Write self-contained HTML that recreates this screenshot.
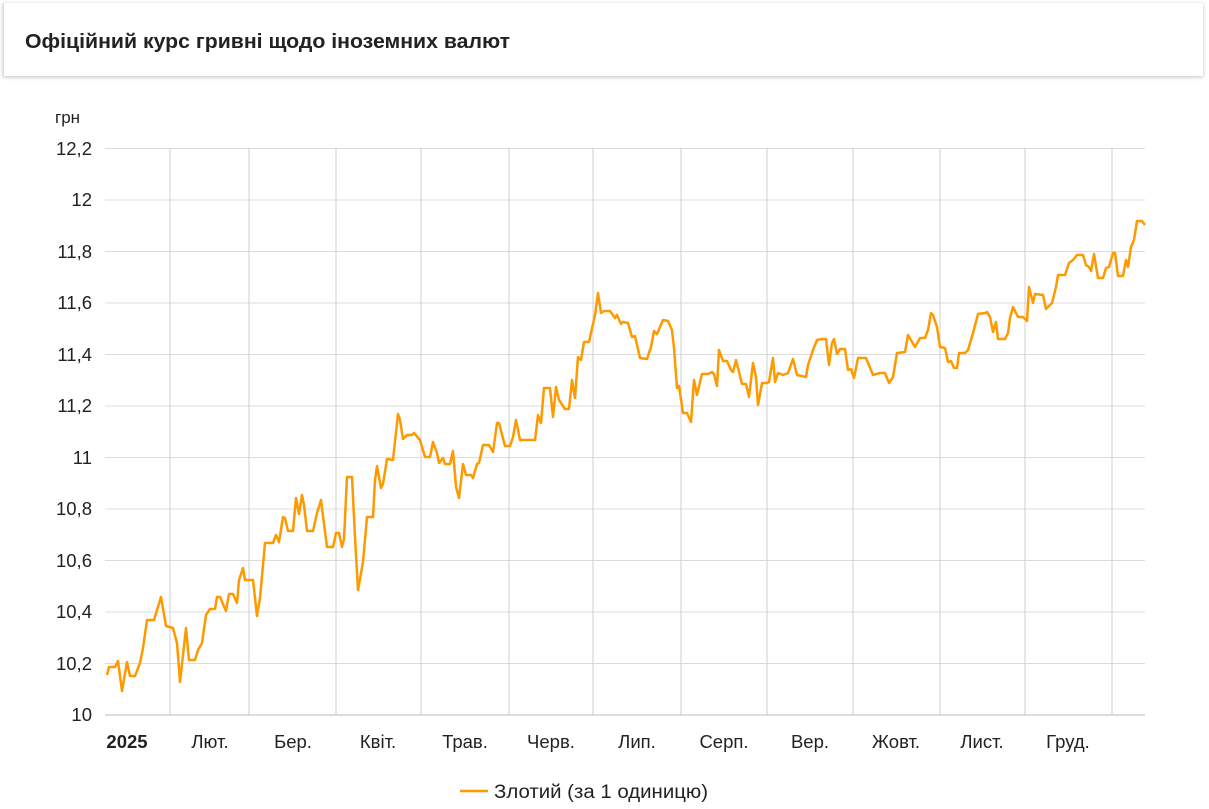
<!DOCTYPE html>
<html><head><meta charset="utf-8"><style>
body{margin:0;width:1209px;height:809px;background:#fff;font-family:"Liberation Sans","DejaVu Sans",sans-serif;overflow:hidden;position:relative}
.card{position:absolute;left:3px;top:3px;width:1199px;height:73px;background:#fff;box-shadow:0 1px 4px rgba(0,0,0,.25);border-left:1px solid #ddd}
</style></head><body>
<div class="card"></div>
<svg width="1209" height="809" style="position:absolute;left:0;top:0" font-family="Liberation Sans, sans-serif">
<text x="25" y="48" font-size="20" font-weight="bold" fill="#222" textLength="485" lengthAdjust="spacingAndGlyphs">Офіційний курс гривні щодо іноземних валют</text>
<g stroke="#dcdcdc" stroke-width="1">
<line x1="105" x2="1145" y1="148.5" y2="148.5"/><line x1="105" x2="1145" y1="200" y2="200"/><line x1="105" x2="1145" y1="251.5" y2="251.5"/><line x1="105" x2="1145" y1="303" y2="303"/><line x1="105" x2="1145" y1="354.5" y2="354.5"/><line x1="105" x2="1145" y1="406" y2="406"/><line x1="105" x2="1145" y1="457.5" y2="457.5"/><line x1="105" x2="1145" y1="509" y2="509"/><line x1="105" x2="1145" y1="560.5" y2="560.5"/><line x1="105" x2="1145" y1="612" y2="612"/><line x1="105" x2="1145" y1="663.5" y2="663.5"/>
</g>
<g stroke="#cfcfcf" stroke-width="1">
<line x1="170" x2="170" y1="148" y2="715"/><line x1="249" x2="249" y1="148" y2="715"/><line x1="336" x2="336" y1="148" y2="715"/><line x1="421" x2="421" y1="148" y2="715"/><line x1="509" x2="509" y1="148" y2="715"/><line x1="593" x2="593" y1="148" y2="715"/><line x1="681" x2="681" y1="148" y2="715"/><line x1="767" x2="767" y1="148" y2="715"/><line x1="853" x2="853" y1="148" y2="715"/><line x1="940" x2="940" y1="148" y2="715"/><line x1="1025" x2="1025" y1="148" y2="715"/><line x1="1112" x2="1112" y1="148" y2="715"/>
</g>
<line x1="105" x2="1145" y1="715" y2="715" stroke="#bbb"/>
<g font-size="18.5" fill="#222" text-anchor="end">
<text x="92" y="155">12,2</text><text x="92" y="206">12</text><text x="92" y="258">11,8</text><text x="92" y="309">11,6</text><text x="92" y="361">11,4</text><text x="92" y="412">11,2</text><text x="92" y="464">11</text><text x="92" y="515">10,8</text><text x="92" y="567">10,6</text><text x="92" y="618">10,4</text><text x="92" y="670">10,2</text><text x="92" y="721">10</text>
</g>
<text x="55" y="123" font-size="17" fill="#222">грн</text>
<g font-size="18.5" fill="#222" text-anchor="middle">
<text x="127" y="748" font-weight="bold">2025</text><text x="210" y="748">Лют.</text><text x="293" y="748">Бер.</text><text x="378" y="748">Квіт.</text><text x="465" y="748">Трав.</text><text x="551" y="748">Черв.</text><text x="637" y="748">Лип.</text><text x="724" y="748">Серп.</text><text x="810" y="748">Вер.</text><text x="896" y="748">Жовт.</text><text x="982" y="748">Лист.</text><text x="1068" y="748">Груд.</text>
</g>
<polyline fill="none" stroke="#ff9900" stroke-width="2.5" stroke-linejoin="round" points="107,675 109,667 115,667 118,661 122,691 127,662 130,676 135,676 140,663 143,648 147,620 154,620 161,597 166,626 173,628 177,643 180,682 186,628 189,660 195,660 198,650 202,643 206,615 210,609 215,609 217,597 220,597 226,611 229,594 233,594 237,603 239,580 243,568 245,580 253,580 257,616 260,598 265,543 273,543 276,535 279,542 283,517 285,518 288,531 293,531 296,498 299,514 302,495 304,505 307,531 313,531 317,513 321,500 327,547 333,547 336,533 339,533 342,547 344,539 347,477 352,477 355,537 358,590 363,562 367,517 373,517 375,480 377,466 381,488 383,484 387,459 393,460 398,414 400,420 403,439 407,435 412,435 414,433 420,440 425,457 430,457 433,442 437,453 439,463 443,458 445,464 450,464 453,451 456,487 459,498 463,464 466,475 471,475 473,478 477,464 479,463 483,445 489,445 493,452 497,423 499,423 505,446 510,446 513,437 516,420 520,440 535,440 538,415 541,423 544,388 550,388 553,417 556,387 559,400 565,409 569,409 572,380 575,398 578,357 581,360 584,342 589,342 595,315 598,293 601,313 604,311 610,311 615,318 617,315 621,324 623,322 628,323 632,337 635,336 640,358 647,359 651,347 654,331 657,334 663,320 668,321 672,330 674,348 677,388 679,386 683,413 687,413 691,422 694,380 697,395 702,374 708,374 712,372 714,374 717,386 719,350 723,361 727,361 731,370 733,372 736,360 742,384 746,384 749,397 753,363 756,377 758,405 762,383 767,383 769,382 773,358 775,382 778,373 783,375 788,373 793,359 797,375 806,377 808,365 813,350 817,340 822,339 826,339 829,365 832,343 834,339 837,354 840,349 845,349 848,370 851,369 854,378 858,358 866,358 873,375 880,373 885,373 889,383 893,377 897,353 905,352 908,335 915,347 920,338 925,338 928,330 931,313 933,315 937,327 940,347 945,348 948,362 951,361 954,368 957,368 959,353 965,353 968,350 973,333 978,314 985,313 987,312 990,317 993,332 996,322 998,339 1005,339 1008,333 1010,318 1013,307 1018,317 1023,317 1027,321 1029,287 1033,303 1035,294 1043,295 1046,309 1052,303 1056,287 1058,275 1065,275 1069,263 1073,260 1077,255 1083,255 1086,265 1089,267 1091,271 1094,254 1098,278 1103,278 1106,268 1109,267 1113,253 1115,253 1118,276 1123,276 1126,260 1128,267 1131,247 1134,240 1137,221 1142,221 1145,225"/>
<line x1="460" x2="488" y1="791" y2="791" stroke="#ff9900" stroke-width="2.5"/>
<text x="494" y="798" font-size="19" fill="#222" textLength="214" lengthAdjust="spacingAndGlyphs">Злотий (за 1 одиницю)</text>
</svg>
</body></html>
